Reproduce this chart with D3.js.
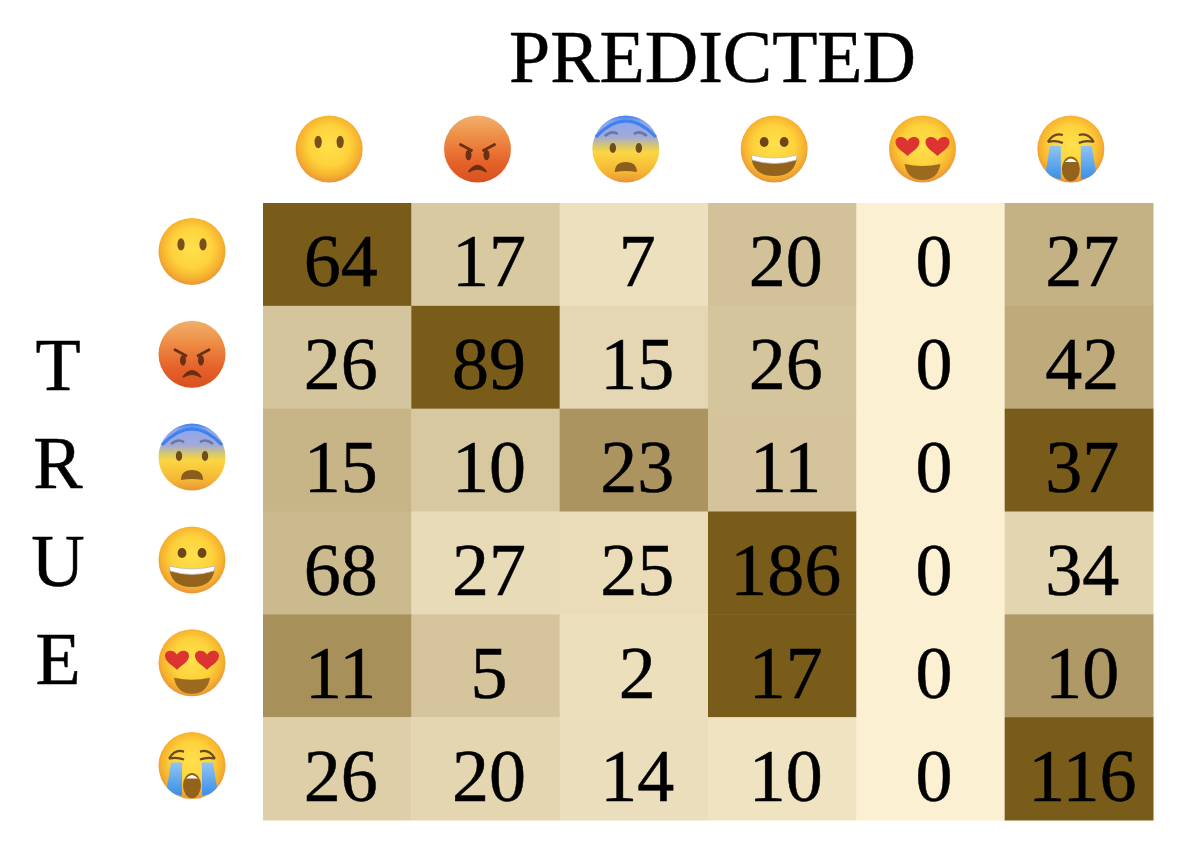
<!DOCTYPE html>
<html><head><meta charset="utf-8">
<script src="https://cdn.jsdelivr.net/npm/d3@7"></script>
<style>html,body{margin:0;background:#fff}svg{display:block}text{font-family:"Liberation Serif",serif;fill:#000;stroke:#000;stroke-width:.5px;filter:blur(.55px)}.emoji{filter:blur(.6px)}</style>
</head><body><div id="c"></div>
<script>
const emotions = ["neutral","angry","fear","happy","love","cry"];
const row0 = [64,17,7,20,0,27];
const row1 = [26,89,15,26,0,42];
const row2 = [15,10,23,11,0,37];
const row3 = [68,27,25,186,0,34];
const row4 = [11,5,2,17,0,10];
const row5 = [26,20,14,10,0,116];
const matrix = [row0,row1,row2,row3,row4,row5];
const trueLetters = ["T","R","U","E"];

const W=1181,H=851;
const svg=d3.select("#c").append("svg").attr("width",W).attr("height",H);
const defs=svg.append("defs");
function grad(id,type,stops,attrs){
  const g=defs.append(type).attr("id",id);
  Object.entries(attrs||{}).forEach(([k,v])=>g.attr(k,v));
  stops.forEach(([o,c])=>g.append("stop").attr("offset",o).attr("stop-color",c));
}
const v={x1:0,y1:0,x2:0,y2:1};
const r={cx:.5,cy:.45,r:.55};
grad("gYellow","radialGradient",[[0,"#ffe14c"],[.55,"#fdd23c"],[.82,"#f7b32e"],[1,"#e8953a"]],r);
grad("gAngry","linearGradient",[[0,"#f0b06c"],[.3,"#ee9048"],[.7,"#e5622a"],[1,"#d9501f"]],v);
grad("gFear","linearGradient",[[0,"#3f82ee"],[.1,"#8ea6ee"],[.32,"#a3a9d8"],[.46,"#d9c96a"],[.55,"#fbd643"],[.85,"#f5b533"],[1,"#e8953a"]],v);
grad("gTear","linearGradient",[[0,"#8fc4f2"],[1,"#3b8fe8"]],v);

const brown="#6a4318";
function face(g,fill){g.append("circle").attr("r",33.5).attr("fill",`url(#${fill})`);}
function eyes(g,dx,y,rx,ry,c){[-1,1].forEach(s=>g.append("ellipse").attr("cx",s*dx).attr("cy",y).attr("rx",rx).attr("ry",ry).attr("fill",c||brown));}
const draw={
 neutral(g){face(g,"gYellow");eyes(g,11,-7,3.6,6.2,"#77501c");},
 angry(g){face(g,"gAngry");eyes(g,9,6,3,5.2,"#6b2f12");
   [-1,1].forEach(s=>g.append("path").attr("d",`M${s*18},-5L${s*5},2`).attr("stroke","#6b2f12").attr("stroke-width",2.6).attr("fill","none"));
   g.append("path").attr("d","M-9,23Q0,10 9,23Q0,17 -9,23Z").attr("fill","#6b2f12").attr("stroke","#6b2f12").attr("stroke-width",1.5);},
 fear(g){face(g,"gFear");eyes(g,13,-1,3.2,5,"#6e4c1c");
   g.append("path").attr("d","M-30,-12Q0,-44 30,-12").attr("stroke","#3f82ee").attr("stroke-width",3).attr("fill","none");
   [-1,1].forEach(s=>g.append("path").attr("d",`M${s*8},-15Q${s*14},-19 ${s*21},-13`).attr("stroke","#6678a8").attr("stroke-width",2.6).attr("fill","none"));
   g.append("path").attr("d","M-11,23Q-11,13 0,13Q11,13 11,23Q0,21 -11,23Z").attr("fill","#8a5f1e");},
 happy(g){face(g,"gYellow");eyes(g,10,-7,4.4,5,"#6e4516");
   g.append("path").attr("d","M-23,6Q0,13 23,6Q22,27 0,27Q-22,27 -23,6Z").attr("fill","#94631b");
   g.append("path").attr("d","M-23,6Q0,12 23,6L22,11Q0,18 -22,11Z").attr("fill","#fff").attr("stroke","#bdbdbd").attr("stroke-width",.8);},
 love(g){face(g,"gYellow");
   [-1,1].forEach(s=>g.append("path").attr("transform",`translate(${s*15},-4)`)
     .attr("d","M0,11C-5,6 -12,3 -12,-3C-12,-9 -3,-10 0,-4C3,-10 12,-9 12,-3C12,3 5,6 0,11Z").attr("fill","#dc3430"));
   g.append("path").attr("d","M-18,15Q0,19 18,15Q15,31 0,31Q-15,31 -18,15Z").attr("fill","#9c6a1e");},
 cry(g){face(g,"gYellow");
   [-1,1].forEach(s=>g.append("path").attr("d",`M${s*23},-7Q${s*17},-17 ${s*8},-14M${s*23},-7Q${s*15},-9 ${s*8},-6`).attr("stroke","#6a4a1c").attr("stroke-width",2.2).attr("fill","none"));
   [-1,1].forEach(s=>g.append("path").attr("d",`M${s*10},-3L${s*21},-3L${s*25},22Q${s*19},30 ${s*10},30Z`).attr("fill","url(#gTear)"));
   g.append("ellipse").attr("cy",20).attr("rx",9).attr("ry",12.5).attr("fill","#94631b");
   g.append("path").attr("d","M-6,13Q0,6 6,13Z").attr("fill","#fff");}
};

const x=d3.scaleBand().domain(d3.range(6)).range([263,1153]);
const y=d3.scaleBand().domain(d3.range(6)).range([203,820]);
const color=d3.scaleLinear().domain([0,1]).range(["#fbf0d2","#7a5c1a"]);

const rows=svg.selectAll("g.row").data(matrix).join("g").attr("class","row")
  .attr("transform",(d,i)=>`translate(0,${y(i)})`);
const cells=rows.selectAll("g").data(d=>{const m=d3.max(d);return d.map((val,j)=>({val,j,t:val/m}));}).join("g");
cells.append("rect").attr("x",d=>x(d.j)).attr("width",x.bandwidth()+.5).attr("height",y.bandwidth()+.5)
  .attr("fill",d=>color(d.t));
cells.append("text").attr("x",d=>x(d.j)+x.bandwidth()/2+3.5).attr("y",y.bandwidth()/2+32)
  .attr("text-anchor","middle").attr("font-size",74).text(d=>d.val);

emotions.forEach((e,i)=>{
  draw[e](svg.append("g").attr("class","emoji").attr("transform",`translate(${x(i)+x.bandwidth()/2-8},149)`));
  draw[e](svg.append("g").attr("class","emoji").attr("transform",`translate(192,${y(i)+y.bandwidth()/2-3})`));
});

svg.append("text").attr("x",712.5).attr("y",82).attr("text-anchor","middle").attr("font-size",74).text("PREDICTED");
const ly=d3.scalePoint().domain(trueLetters).range([390,684]);
svg.selectAll("text.true").data(trueLetters).join("text").attr("class","true")
  .attr("x",58).attr("y",d=>ly(d)).attr("text-anchor","middle").attr("font-size",74).text(d=>d);
</script></body></html>
